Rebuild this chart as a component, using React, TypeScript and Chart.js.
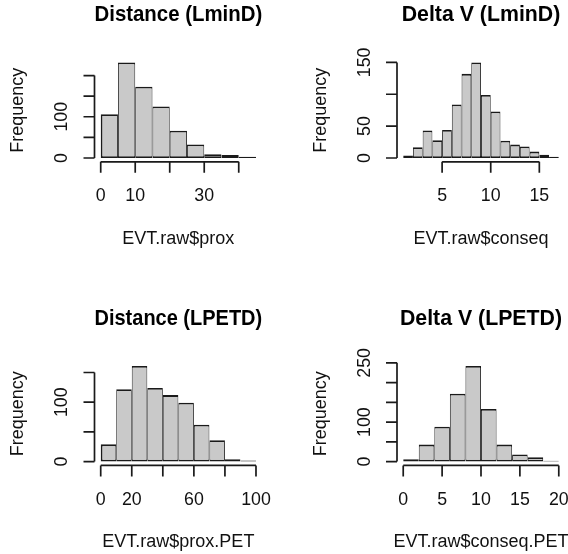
import React, { useEffect, useRef } from 'react';
import { Chart, registerables } from 'chart.js';

Chart.register(...registerables);

const FAMILY = '"Liberation Sans", Arial, Helvetica, sans-serif';

// ---- Panel 1: Distance (LminD)
const title1 = 'Distance (LminD)';
const xLabel1 = 'EVT.raw$prox';
const breaks1 = [0, 5, 10, 15, 20, 25, 30, 35, 40, 45];
const counts1 = [106, 232, 173, 125, 66, 33, 9, 7, 3];
const xTicks1 = [0, 10, 20, 30, 40];
const xTickLabels1 = ['0', '10', '', '30', ''];
const yTicks1 = [0, 50, 100, 150, 200];
const yTickLabels1 = ['0', '', '100', '', ''];

// ---- Panel 2: Delta V (LminD)
const title2 = 'Delta V (LminD)';
const xLabel2 = 'EVT.raw$conseq';
const breaks2 = [1, 2, 3, 4, 5, 6, 7, 8, 9, 10, 11, 12, 13, 14, 15, 16, 17];
const counts2 = [4, 17, 43, 28, 44, 84, 132, 150, 99, 73, 27, 21, 18, 10, 5, 2];
const xTicks2 = [5, 10, 15];
const xTickLabels2 = ['5', '10', '15'];
const yTicks2 = [0, 50, 100, 150];
const yTickLabels2 = ['0', '50', '', '150'];

// ---- Panel 3: Distance (LPETD)
const title3 = 'Distance (LPETD)';
const xLabel3 = 'EVT.raw$prox.PET';
const breaks3 = [0, 10, 20, 30, 40, 50, 60, 70, 80, 90, 100];
const counts3 = [29, 122, 161, 124, 112, 99, 62, 36, 4, 2];
const xTicks3 = [0, 20, 40, 60, 80, 100];
const xTickLabels3 = ['0', '20', '', '60', '', '100'];
const yTicks3 = [0, 50, 100, 150];
const yTickLabels3 = ['0', '', '100', ''];

// ---- Panel 4: Delta V (LPETD)
const title4 = 'Delta V (LPETD)';
const xLabel4 = 'EVT.raw$conseq.PET';
const breaks4 = [0, 2, 4, 6, 8, 10, 12, 14, 16, 18, 20];
const counts4 = [6, 43, 88, 172, 242, 133, 43, 18, 11, 2];
const xTicks4 = [0, 5, 10, 15, 20];
const xTickLabels4 = ['0', '5', '10', '15', '20'];
const yTicks4 = [0, 50, 100, 150, 200, 250];
const yTickLabels4 = ['0', '', '100', '', '', '250'];

const yLabel = 'Frequency';

type PanelProps = {
  title: string;
  xLabel: string;
  breaks: number[];
  counts: number[];
  xTicks: number[];
  xTickLabels: string[];
  yTicks: number[];
  yTickLabels: string[];
  left: number;
  top: number;
  pad: { left: number; right: number; top: number; bottom: number };
  titlePad: { top: number; bottom: number };
};

const W = 284;
const H = 277;
const LINE = '#1a1a1a';
const TEXT = '#111';
const BW = 1.8;

function Panel(p: PanelProps) {
  const ref = useRef<HTMLCanvasElement | null>(null);
  useEffect(() => {
    if (!ref.current) return;
    const n = p.counts.length;
    const centers = p.counts.map((_, i) => (p.breaks[i] + p.breaks[i + 1]) / 2);
    const bx0 = p.breaks[0];
    const bx1 = p.breaks[p.breaks.length - 1];
    const xr = bx1 - bx0;
    const ymax = Math.max(...p.counts);

    const rAxes = {
      id: 'rAxes',
      afterDraw(chart: any) {
        const { ctx, chartArea: a, scales } = chart;
        const x = scales.x;
        const y = scales.y;
        ctx.save();
        ctx.strokeStyle = LINE;
        ctx.lineWidth = 1.7;
        ctx.lineCap = 'butt';
        // x axis
        const yb = a.bottom;
        ctx.beginPath();
        ctx.moveTo(x.getPixelForValue(p.xTicks[0]), yb);
        ctx.lineTo(x.getPixelForValue(p.xTicks[p.xTicks.length - 1]), yb);
        p.xTicks.forEach((v) => {
          const px = x.getPixelForValue(v);
          ctx.moveTo(px, yb);
          ctx.lineTo(px, yb + 11);
        });
        // y axis
        const xl = a.left;
        ctx.moveTo(xl, y.getPixelForValue(p.yTicks[0]));
        ctx.lineTo(xl, y.getPixelForValue(p.yTicks[p.yTicks.length - 1]));
        p.yTicks.forEach((v) => {
          const py = y.getPixelForValue(v);
          ctx.moveTo(xl, py);
          ctx.lineTo(xl - 11, py);
        });
        ctx.stroke();

        ctx.fillStyle = TEXT;
        ctx.textAlign = 'center';
        ctx.textBaseline = 'middle';
        ctx.font = `17.8px ${FAMILY}`;
        p.xTicks.forEach((v, i) => {
          const lab = p.xTickLabels[i];
          if (lab) ctx.fillText(lab, x.getPixelForValue(v), yb + 34.8);
        });
        ctx.font = `18px ${FAMILY}`;
        ctx.fillText(p.xLabel, (a.left + a.right) / 2, yb + 77);

        ctx.font = `17.8px ${FAMILY}`;
        p.yTicks.forEach((v, i) => {
          const lab = p.yTickLabels[i];
          if (!lab) return;
          ctx.save();
          ctx.translate(xl - 32, y.getPixelForValue(v));
          ctx.rotate(-Math.PI / 2);
          ctx.fillText(lab, 0, 0);
          ctx.restore();
        });
        ctx.font = `18px ${FAMILY}`;
        ctx.save();
        ctx.translate(xl - 76, (a.top + a.bottom) / 2);
        ctx.rotate(-Math.PI / 2);
        ctx.fillText(yLabel, 0, 0);
        ctx.restore();
        ctx.restore();
      },
    };

    const chart = new Chart(ref.current, {
      type: 'bar',
      data: {
        datasets: [
          {
            data: centers.map((c, i) => ({ x: c, y: p.counts[i] })),
            backgroundColor: '#c9c9c9',
            borderColor: LINE,
            borderSkipped: false,
            inflateAmount: 0,
            borderWidth: (ctx: any) => ({
              top: BW,
              bottom: BW,
              left: ctx.dataIndex === 0 ? BW : BW / 2,
              right: ctx.dataIndex === n - 1 ? BW : BW / 2,
            }),
            barPercentage: 1,
            categoryPercentage: 1,
          } as any,
        ],
      },
      options: {
        animation: false,
        responsive: false,
        maintainAspectRatio: false,
        devicePixelRatio: 1,
        layout: { padding: p.pad },
        events: [],
        scales: {
          x: {
            type: 'linear',
            display: false,
            offset: false,
            min: bx0 - 0.04 * xr,
            max: bx1 + 0.04 * xr,
            afterBuildTicks: (s: any) => {
              s.ticks = p.xTicks.map((v) => ({ value: v }));
            },
          },
          y: {
            type: 'linear',
            display: false,
            min: -0.04 * ymax,
            max: ymax * 1.04,
            afterBuildTicks: (s: any) => {
              s.ticks = p.yTicks.map((v) => ({ value: v }));
            },
          },
        },
        plugins: {
          legend: { display: false },
          tooltip: { enabled: false },
          title: {
            display: true,
            text: p.title,
            color: '#000',
            font: { family: FAMILY, size: 21.3, weight: 'bold', lineHeight: 1.2 },
            padding: p.titlePad,
          },
        },
      } as any,
      plugins: [rAxes],
    });
    return () => chart.destroy();
  }, []);
  return (
    <canvas
      ref={ref}
      width={W}
      height={H}
      style={{ position: 'absolute', left: p.left, top: p.top, width: W, height: H }}
    />
  );
}

export default function App() {
  const topPad = { left: 94.5, right: 21.8, top: 0, bottom: 115.2 };
  const topPadR = { left: 113, right: 3, top: 0, bottom: 115.2 };
  const botPad = { left: 94.5, right: 21.8, top: 0, bottom: 88.6 };
  const botPadR = { left: 113, right: 3, top: 0, bottom: 88.6 };
  const topTitle = { top: 2.7, bottom: 30.3 };
  const botTitle = { top: 29.3, bottom: 30.3 };
  return (
    <div style={{ position: 'absolute', left: 0, top: 0, width: 568, height: 554, background: '#fff' }}>
      <Panel title={title1} xLabel={xLabel1} breaks={breaks1} counts={counts1} xTicks={xTicks1}
        xTickLabels={xTickLabels1} yTicks={yTicks1} yTickLabels={yTickLabels1}
        left={0} top={0} pad={topPad} titlePad={topTitle} />
      <Panel title={title2} xLabel={xLabel2} breaks={breaks2} counts={counts2} xTicks={xTicks2}
        xTickLabels={xTickLabels2} yTicks={yTicks2} yTickLabels={yTickLabels2}
        left={284} top={0} pad={topPadR} titlePad={topTitle} />
      <Panel title={title3} xLabel={xLabel3} breaks={breaks3} counts={counts3} xTicks={xTicks3}
        xTickLabels={xTickLabels3} yTicks={yTicks3} yTickLabels={yTickLabels3}
        left={0} top={277} pad={botPad} titlePad={botTitle} />
      <Panel title={title4} xLabel={xLabel4} breaks={breaks4} counts={counts4} xTicks={xTicks4}
        xTickLabels={xTickLabels4} yTicks={yTicks4} yTickLabels={yTickLabels4}
        left={284} top={277} pad={botPadR} titlePad={botTitle} />
    </div>
  );
}
